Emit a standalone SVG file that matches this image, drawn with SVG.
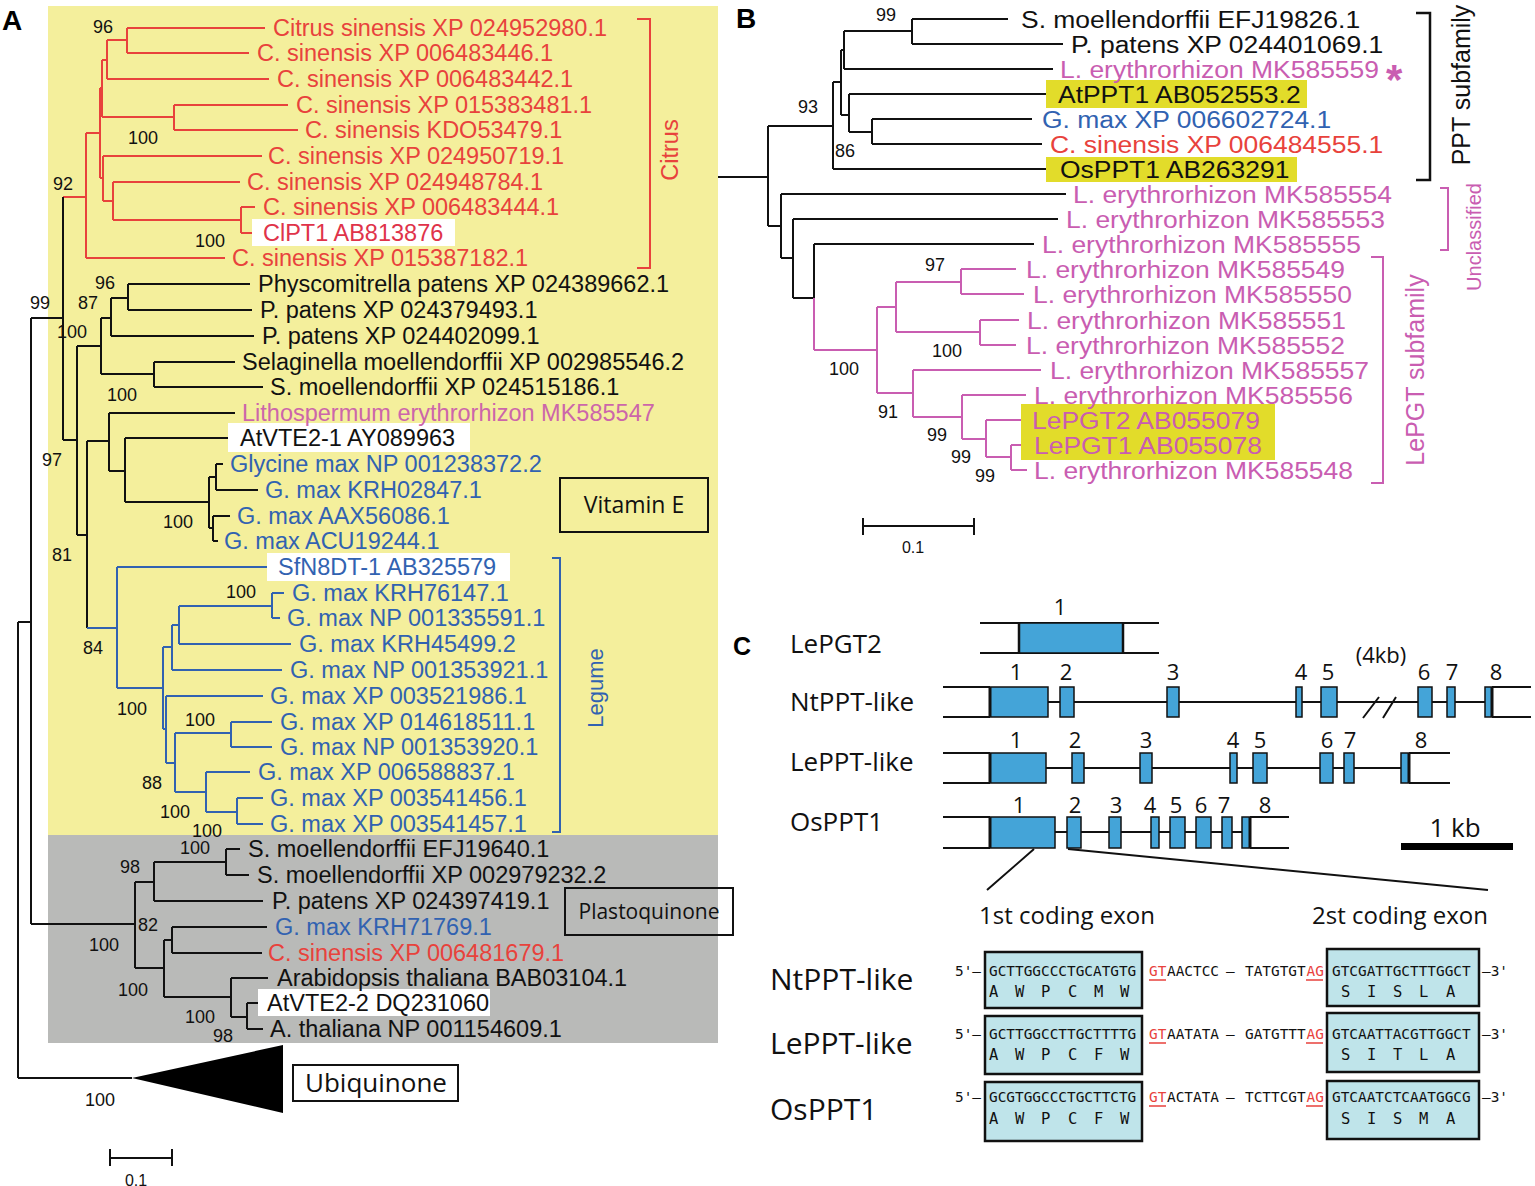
<svg xmlns="http://www.w3.org/2000/svg" width="1535" height="1186" viewBox="0 0 1535 1186">
<style>
.ta{font-family:"Liberation Sans",Arial,sans-serif;font-size:23.5px}
.tb{font-family:"Liberation Sans",Arial,sans-serif;font-size:24.5px}
.bs{font-family:"Liberation Sans",Arial,sans-serif;font-size:18px;text-anchor:middle;fill:#111}
.lab{font-family:"Liberation Sans",Arial,sans-serif;font-size:28px;font-weight:bold;fill:#000}
.os{font-family:"Open Sans","Noto Sans",sans-serif;fill:#111}
.mono{font-family:"DejaVu Sans Mono","Liberation Mono",monospace;font-size:14.4px;fill:#111}
.aa{font-family:"DejaVu Sans Mono","Liberation Mono",monospace;font-size:15.5px;fill:#111}
.red{fill:#e8423c}.blu{fill:#3162b1}.pnk{fill:#cc66aa}.pnkb{fill:#c95db1}.blk{fill:#111}
.k{stroke:#111;stroke-width:2;fill:none}
.r{stroke:#e8423c;stroke-width:2;fill:none}
.b{stroke:#3162b1;stroke-width:2;fill:none}
.p{stroke:#c95db1;stroke-width:2;fill:none}
.wb{fill:#fff}
.hl{fill:#e2dc2a}
.ex{fill:#44a4d8;stroke:#111;stroke-width:1.5}
.sq{fill:#bfe4ea;stroke:#111;stroke-width:2.5}
.ul{stroke:#e8423c;stroke-width:1.5}
</style>
<rect width="1535" height="1186" fill="#fff"/>

<!-- Panel A backgrounds -->
<rect x="48" y="6" width="670" height="829" fill="#f4ef9c"/>
<rect x="48" y="835" width="670" height="208" fill="#b9bab8"/>
<text class="lab" x="2" y="30">A</text>
<text class="lab" x="736" y="28">B</text>
<text class="lab" x="733" y="655" style="font-size:25px">C</text>

<!-- connectors (branches) -->
<g id="branches">
<path class="r" d="M127 28H265M127 53H249M127 28V53M107 40H127M107 40V79M107 79H269M102 60H107M102 60V117M102 117H174M174 105V130M174 105H288M174 130H298M100 88H102M100 88V178M100 178H103M103 156V201M103 156H262M103 201H113M113 182V220M113 182H240M113 220H241M241 207V233M241 207H255M241 233H252M86 133H100M86 133V258M86 258H225M63 197H86"/>
<path class="k" d="M63 197V440M31 318H63M31 318V924M18 622H31M18 622V1078M18 1078H132M63 440H77M77 346V535M77 346H101M101 318V374M101 318H111M111 298V336M111 298H128M128 284V310M128 284H250M128 310H252M111 336H254M101 374H154M154 362V387M154 362H235M154 387H263M77 535H87M87 441V628M87 441H109M109 413V471M109 413H235M109 471H125M125 438V502M125 438H228M125 502H209M209 477V528M209 477H216M216 464V490M216 464H223M216 490H258M209 528H213M213 516V541M213 516H230M213 541H218"/>
<path class="b" d="M87 628H117M117 567V688M117 567H267M117 688H163M163 647V729M163 647H172M172 625V670M172 625H179M179 606V644M179 606H272M272 593V618M272 593H284M272 618H280M179 644H291M172 670H282M163 729H166M166 696V763M166 696H263M166 763H175M175 733V792M175 733H231M231 722V747M231 722H272M231 747H272M175 792H206M206 772V812M206 772H250M206 812H237M237 798V824M237 798H263M237 824H263"/>
<path class="k" d="M31 924H135M135 882V968M135 882H154M154 862V901M154 862H226M226 849V875M226 849H240M226 875H249M154 901H263M135 968H164M164 940V997M164 940H172M172 927V953M172 927H267M172 953H262M164 997H231M231 978V1017M231 978H268M231 1017H247M247 1003V1029M247 1003H258M247 1029H263"/>
<polygon points="132,1078 283,1045 283,1113" fill="#000"/>
<path class="k" d="M718 177H768"/>
<!-- Panel B tree -->
<path class="k" d="M912 19H1008M912 44H1063M912 19V44M844 31H912M844 31V69M844 69H1053M841 50H844M841 50V115M841 115H849M849 94V132M849 94H1050M849 132H872M872 119V144M872 119H1032M872 144H1042M833 82H841M833 82V169M833 169H1053M768 126H833M768 126V226M768 226H781M781 194V258M781 194H1066M781 258H793M793 219V298M793 219H1058M793 298H814M814 244V298M814 244H1034"/>
<path class="p" d="M814 298V350M814 350H877M877 307V393M877 307H896M896 282V332M896 282H961M961 269V294M961 269H1016M961 294H1024M896 332H980M980 320V345M980 320H1019M980 345H1016M877 393H913M913 370V417M913 370H1041M913 417H962M962 395V439M962 395H1026M962 439H986M986 420V457M986 420H1024M986 457H1011M1011 445V470M1011 445H1031M1011 470H1027"/>
<path d="M1034 849L987 890M1068 849L1488 890" stroke="#111" stroke-width="2" fill="none"/>
</g>

<!-- Panel A labels -->
<g id="hl-boxes-a">
<rect class="wb" x="252" y="219" width="203" height="27"/>
<rect class="wb" x="228" y="423" width="242" height="29"/>
<rect class="wb" x="267" y="553" width="243" height="28"/>
<rect class="wb" x="258" y="989" width="232" height="27"/>
</g>
<g id="leaves-a">
<g id="a01"><text class="ta red" x="273" y="36">Citrus sinensis XP 024952980.1</text></g>
<g id="a02"><text class="ta red" x="257" y="61">C. sinensis XP 006483446.1</text></g>
<g id="a03"><text class="ta red" x="277" y="87">C. sinensis XP 006483442.1</text></g>
<g id="a04"><text class="ta red" x="296" y="113">C. sinensis XP 015383481.1</text></g>
<g id="a05"><text class="ta red" x="305" y="138">C. sinensis KDO53479.1</text></g>
<g id="a06"><text class="ta red" x="268" y="164">C. sinensis XP 024950719.1</text></g>
<g id="a07"><text class="ta red" x="247" y="190">C. sinensis XP 024948784.1</text></g>
<g id="a08"><text class="ta red" x="263" y="215">C. sinensis XP 006483444.1</text></g>
<g id="a09"><text class="ta" x="263" y="241" fill="#e0334a">ClPT1 AB813876</text></g>
<g id="a10"><text class="ta red" x="232" y="266">C. sinensis XP 015387182.1</text></g>
<g id="a11"><text class="ta blk" x="258" y="292">Physcomitrella patens XP 024389662.1</text></g>
<g id="a12"><text class="ta blk" x="260" y="318">P. patens XP 024379493.1</text></g>
<g id="a13"><text class="ta blk" x="262" y="344">P. patens XP 024402099.1</text></g>
<g id="a14"><text class="ta blk" x="242" y="370">Selaginella moellendorffii XP 002985546.2</text></g>
<g id="a15"><text class="ta blk" x="270" y="395">S. moellendorffii XP 024515186.1</text></g>
<g id="a16"><text class="ta pnk" x="242" y="421">Lithospermum erythrorhizon MK585547</text></g>
<g id="a17"><text class="ta blk" x="240" y="446">AtVTE2-1 AY089963</text></g>
<g id="a18"><text class="ta blu" x="230" y="472">Glycine max NP 001238372.2</text></g>
<g id="a19"><text class="ta blu" x="265" y="498">G. max KRH02847.1</text></g>
<g id="a20"><text class="ta blu" x="237" y="524">G. max AAX56086.1</text></g>
<g id="a21"><text class="ta blu" x="224" y="549">G. max ACU19244.1</text></g>
<g id="a22"><text class="ta blu" x="278" y="575">SfN8DT-1 AB325579</text></g>
<g id="a23"><text class="ta blu" x="292" y="601">G. max KRH76147.1</text></g>
<g id="a24"><text class="ta blu" x="287" y="626">G. max NP 001335591.1</text></g>
<g id="a25"><text class="ta blu" x="299" y="652">G. max KRH45499.2</text></g>
<g id="a26"><text class="ta blu" x="290" y="678">G. max NP 001353921.1</text></g>
<g id="a27"><text class="ta blu" x="270" y="704">G. max XP 003521986.1</text></g>
<g id="a28"><text class="ta blu" x="280" y="730">G. max XP 014618511.1</text></g>
<g id="a29"><text class="ta blu" x="280" y="755">G. max NP 001353920.1</text></g>
<g id="a30"><text class="ta blu" x="258" y="780">G. max XP 006588837.1</text></g>
<g id="a31"><text class="ta blu" x="270" y="806">G. max XP 003541456.1</text></g>
<g id="a32"><text class="ta blu" x="270" y="832">G. max XP 003541457.1</text></g>
<g id="a33"><text class="ta blk" x="248" y="857">S. moellendorffii EFJ19640.1</text></g>
<g id="a34"><text class="ta blk" x="257" y="883">S. moellendorffii XP 002979232.2</text></g>
<g id="a35"><text class="ta blk" x="272" y="909">P. patens XP 024397419.1</text></g>
<g id="a36"><text class="ta blu" x="275" y="935">G. max KRH71769.1</text></g>
<g id="a37"><text class="ta red" x="268" y="961">C. sinensis XP 006481679.1</text></g>
<g id="a38"><text class="ta blk" x="277" y="986">Arabidopsis thaliana BAB03104.1</text></g>
<g id="a39"><text class="ta blk" x="267" y="1011">AtVTE2-2 DQ231060</text></g>
<g id="a40"><text class="ta blk" x="270" y="1037">A. thaliana NP 001154609.1</text></g>
</g>

<g id="bootstrap-a">
<text class="bs" x="103" y="33">96</text>
<text class="bs" x="143" y="144">100</text>
<text class="bs" x="210" y="247">100</text>
<text class="bs" x="63" y="190">92</text>
<text class="bs" x="40" y="309">99</text>
<text class="bs" x="105" y="289">96</text>
<text class="bs" x="88" y="309">87</text>
<text class="bs" x="72" y="338">100</text>
<text class="bs" x="122" y="401">100</text>
<text class="bs" x="52" y="466">97</text>
<text class="bs" x="178" y="528">100</text>
<text class="bs" x="62" y="561">81</text>
<text class="bs" x="93" y="654">84</text>
<text class="bs" x="241" y="598">100</text>
<text class="bs" x="132" y="715">100</text>
<text class="bs" x="200" y="726">100</text>
<text class="bs" x="152" y="789">88</text>
<text class="bs" x="175" y="818">100</text>
<text class="bs" x="207" y="837">100</text>
<text class="bs" x="195" y="854">100</text>
<text class="bs" x="130" y="873">98</text>
<text class="bs" x="148" y="931">82</text>
<text class="bs" x="104" y="951">100</text>
<text class="bs" x="133" y="996">100</text>
<text class="bs" x="200" y="1023">100</text>
<text class="bs" x="223" y="1042">98</text>
<text class="bs" x="100" y="1106">100</text>
</g>

<g id="clade-citrus">
<path class="r" d="M637 19H650V268H637"/>
<text class="ta red" transform="translate(678,150) rotate(-90)" text-anchor="middle">Citrus</text>
</g>
<g id="clade-legume">
<path class="b" d="M552 558H560V832H552"/>
<text class="blu" transform="translate(603,688) rotate(-90)" text-anchor="middle" style="font-family:'Liberation Sans',Arial,sans-serif;font-size:22px">Legume</text>
</g>
<g id="box-vitamin-e">
<rect x="560" y="478" width="148" height="54" fill="none" stroke="#111" stroke-width="2"/>
<text class="os" x="634" y="513" text-anchor="middle" style="font-size:23px">Vitamin E</text>
</g>
<g id="box-plastoquinone">
<rect x="565" y="888" width="168" height="47" fill="none" stroke="#111" stroke-width="2"/>
<text class="os" x="649" y="919" text-anchor="middle" style="font-size:21px">Plastoquinone</text>
</g>
<g id="box-ubiquinone">
<rect x="293" y="1065" width="165" height="36" fill="#fff" stroke="#111" stroke-width="2"/>
<text class="os" x="376" y="1092" text-anchor="middle" style="font-size:26px">Ubiquinone</text>
</g>
<g id="scale-a">
<path class="k" d="M110 1158H172M110 1149V1166M172 1149V1166"/>
<text class="bs" x="136" y="1186" style="font-size:16px">0.1</text>
</g>

<!-- Panel B -->
<g id="hl-boxes-b">
<rect class="hl" x="1046" y="80" width="261" height="28"/>
<rect class="hl" x="1046" y="157" width="251" height="25"/>
<rect class="hl" x="1021" y="404" width="254" height="56"/>
</g>
<g id="leaves-b">
<g id="b01"><text class="tb blk" transform="translate(1021,28) scale(1.08,1)">S. moellendorffii EFJ19826.1</text></g>
<g id="b02"><text class="tb blk" transform="translate(1071,53) scale(1.08,1)">P. patens XP 024401069.1</text></g>
<g id="b03"><text class="tb pnkb" transform="translate(1060,78) scale(1.08,1)">L. erythrorhizon MK585559</text><text class="pnkb" x="1386" y="94" style="font-family:'Liberation Sans',Arial,sans-serif;font-size:42px;font-weight:bold">*</text></g>
<g id="b04"><text class="tb blk" transform="translate(1058,103) scale(1.08,1)">AtPPT1 AB052553.2</text></g>
<g id="b05"><text class="tb blu" transform="translate(1042,128) scale(1.08,1)">G. max XP 006602724.1</text></g>
<g id="b06"><text class="tb red" transform="translate(1050,153) scale(1.08,1)">C. sinensis XP 006484555.1</text></g>
<g id="b07"><text class="tb blk" transform="translate(1060,178) scale(1.08,1)">OsPPT1 AB263291</text></g>
<g id="b08"><text class="tb pnkb" transform="translate(1073,203) scale(1.08,1)">L. erythrorhizon MK585554</text></g>
<g id="b09"><text class="tb pnkb" transform="translate(1066,228) scale(1.08,1)">L. erythrorhizon MK585553</text></g>
<g id="b10"><text class="tb pnkb" transform="translate(1042,253) scale(1.08,1)">L. erythrorhizon MK585555</text></g>
<g id="b11"><text class="tb pnkb" transform="translate(1026,278) scale(1.08,1)">L. erythrorhizon MK585549</text></g>
<g id="b12"><text class="tb pnkb" transform="translate(1033,303) scale(1.08,1)">L. erythrorhizon MK585550</text></g>
<g id="b13"><text class="tb pnkb" transform="translate(1027,329) scale(1.08,1)">L. erythrorhizon MK585551</text></g>
<g id="b14"><text class="tb pnkb" transform="translate(1026,354) scale(1.08,1)">L. erythrorhizon MK585552</text></g>
<g id="b15"><text class="tb pnkb" transform="translate(1050,379) scale(1.08,1)">L. erythrorhizon MK585557</text></g>
<g id="b16"><text class="tb pnkb" transform="translate(1034,404) scale(1.08,1)">L. erythrorhizon MK585556</text></g>
<g id="b17"><text class="tb pnkb" transform="translate(1032,429) scale(1.08,1)">LePGT2 AB055079</text></g>
<g id="b18"><text class="tb pnkb" transform="translate(1034,454) scale(1.08,1)">LePGT1 AB055078</text></g>
<g id="b19"><text class="tb pnkb" transform="translate(1034,479) scale(1.08,1)">L. erythrorhizon MK585548</text></g>
</g>
<g id="bootstrap-b">
<text class="bs" x="886" y="21">99</text>
<text class="bs" x="808" y="113">93</text>
<text class="bs" x="845" y="157">86</text>
<text class="bs" x="935" y="271">97</text>
<text class="bs" x="947" y="357">100</text>
<text class="bs" x="844" y="375">100</text>
<text class="bs" x="888" y="418">91</text>
<text class="bs" x="937" y="441">99</text>
<text class="bs" x="961" y="463">99</text>
<text class="bs" x="985" y="482">99</text>
</g>
<g id="clade-ppt">
<path d="M1416 13H1430V180H1416" stroke="#111" stroke-width="2.5" fill="none"/>
<text class="blk" transform="translate(1470,85) rotate(-90)" text-anchor="middle" style="font-family:'Liberation Sans',Arial,sans-serif;font-size:25px">PPT subfamily</text>
</g>
<g id="clade-unclassified">
<path class="p" d="M1440 188H1448V250H1440"/>
<text class="pnkb" transform="translate(1481,237) rotate(-90)" text-anchor="middle" style="font-family:'Liberation Sans',Arial,sans-serif;font-size:20px">Unclassified</text>
</g>
<g id="clade-lepgt">
<path class="p" d="M1371 257H1383V483H1371"/>
<text class="pnkb" transform="translate(1424,370) rotate(-90)" text-anchor="middle" style="font-family:'Liberation Sans',Arial,sans-serif;font-size:25px">LePGT subfamily</text>
</g>
<g id="scale-b">
<path class="k" d="M863 526H974M863 518V535M974 518V535"/>
<text class="bs" x="913" y="553" style="font-size:16px">0.1</text>
</g>

<!-- Panel C gene models -->
<g id="gene-lepgt2">
<text class="os" x="790" y="653" style="font-size:26px">LePGT2</text>
<path class="k" d="M980 623H1159M980 653H1159"/>
<rect class="ex" x="1019" y="623" width="104" height="30"/>
<path d="M1019 623V653M1123 623V653" stroke="#111" stroke-width="2.5"/>
<text class="os" x="1060" y="615" text-anchor="middle" style="font-size:22px">1</text>
</g>
<g id="gene-ntppt">
<text class="os" x="790" y="711" style="font-size:26px">NtPPT-like</text>
<path class="k" d="M943 687H990M943 717H990M1492 687H1531M1492 717H1531M1048 702H1485"/>
<rect class="ex" x="990" y="687" width="58" height="30"/>
<rect class="ex" x="1060" y="687" width="14" height="30"/>
<rect class="ex" x="1167" y="687" width="12" height="30"/>
<rect class="ex" x="1296" y="687" width="6" height="30"/>
<rect class="ex" x="1321" y="687" width="16" height="30"/>
<rect class="ex" x="1418" y="687" width="14" height="30"/>
<rect class="ex" x="1447" y="687" width="8" height="30"/>
<rect class="ex" x="1485" y="687" width="7" height="30"/>
<path d="M990 687V717M1492 687V717" stroke="#111" stroke-width="3"/>
<path d="M1363 718L1379 697M1383 718L1396 697" stroke="#111" stroke-width="2"/>
<g class="os" style="font-size:22px" text-anchor="middle">
<text x="1016" y="680">1</text><text x="1066" y="680">2</text><text x="1173" y="680">3</text><text x="1301" y="680">4</text><text x="1328" y="680">5</text><text x="1381" y="663">(4kb)</text><text x="1424" y="680">6</text><text x="1452" y="680">7</text><text x="1496" y="680">8</text>
</g>
</g>
<g id="gene-leppt">
<text class="os" x="790" y="771" style="font-size:26px">LePPT-like</text>
<path class="k" d="M943 753H990M943 783H990M1409 753H1450M1409 783H1450M1046 768H1401"/>
<rect class="ex" x="990" y="753" width="56" height="30"/>
<rect class="ex" x="1072" y="753" width="12" height="30"/>
<rect class="ex" x="1140" y="753" width="12" height="30"/>
<rect class="ex" x="1230" y="753" width="7" height="30"/>
<rect class="ex" x="1253" y="753" width="14" height="30"/>
<rect class="ex" x="1320" y="753" width="13" height="30"/>
<rect class="ex" x="1344" y="753" width="10" height="30"/>
<rect class="ex" x="1401" y="753" width="8" height="30"/>
<path d="M990 753V783M1409 753V783" stroke="#111" stroke-width="3"/>
<g class="os" style="font-size:22px" text-anchor="middle">
<text x="1016" y="748">1</text><text x="1075" y="748">2</text><text x="1146" y="748">3</text><text x="1233" y="748">4</text><text x="1260" y="748">5</text><text x="1327" y="748">6</text><text x="1350" y="748">7</text><text x="1421" y="748">8</text>
</g>
</g>
<g id="gene-osppt1">
<text class="os" x="790" y="831" style="font-size:26px">OsPPT1</text>
<path class="k" d="M943 817H990M943 848H990M1250 817H1289M1250 848H1289M1055 832H1242"/>
<rect class="ex" x="990" y="817" width="65" height="31"/>
<rect class="ex" x="1067" y="817" width="14" height="31"/>
<rect class="ex" x="1109" y="817" width="12" height="31"/>
<rect class="ex" x="1151" y="817" width="8" height="31"/>
<rect class="ex" x="1170" y="817" width="15" height="31"/>
<rect class="ex" x="1196" y="817" width="15" height="31"/>
<rect class="ex" x="1222" y="817" width="10" height="31"/>
<rect class="ex" x="1242" y="817" width="8" height="31"/>
<path d="M990 817V848M1250 817V848" stroke="#111" stroke-width="3"/>
<g class="os" style="font-size:22px" text-anchor="middle">
<text x="1019" y="813">1</text><text x="1075" y="813">2</text><text x="1116" y="813">3</text><text x="1150" y="813">4</text><text x="1176" y="813">5</text><text x="1201" y="813">6</text><text x="1224" y="813">7</text><text x="1265" y="813">8</text>
</g>
</g>
<g id="scale-c">
<rect x="1401" y="843" width="112" height="7" fill="#000"/>
<text class="os" x="1455" y="837" text-anchor="middle" style="font-size:26px">1 kb</text>
</g>

<!-- Sequences -->
<g id="seq-headers">
<text class="os" x="1067" y="924" text-anchor="middle" style="font-size:24px">1st coding exon</text>
<text class="os" x="1400" y="924" text-anchor="middle" style="font-size:24px">2st coding exon</text>
</g>
<g id="seq-ntppt">
<text class="os" x="770" y="990" style="font-size:30px">NtPPT-like</text>
<rect class="sq" x="985" y="952" width="157" height="56"/>
<rect class="sq" x="1327" y="949" width="152" height="57"/>
<text class="mono" x="955" y="976">5'–</text>
<text class="mono" x="989" y="976">GCTTGGCCCTGCATGTG</text>
<text class="mono red" x="1149" y="976">GT</text>
<text class="mono" x="1167" y="976">AACTCC</text>
<text class="mono" x="1226" y="976">–</text>
<text class="mono" x="1245" y="976">TATGTGT</text>
<text class="mono red" x="1306.5" y="976">AG</text>
<text class="mono" x="1332" y="976">GTCGATTGCTTTGGCT</text>
<text class="mono" x="1482" y="976">–3'</text>
<path class="ul" d="M1149 980H1166M1306 980H1323"/>
<text class="aa" x="989 1015 1041 1068 1094 1120" y="997">AWPCMW</text>
<text class="aa" x="1341 1367 1393 1419 1446" y="997">SISLA</text>
</g>
<g id="seq-leppt">
<text class="os" x="770" y="1054" style="font-size:30px">LePPT-like</text>
<rect class="sq" x="985" y="1016" width="157" height="58"/>
<rect class="sq" x="1327" y="1013" width="152" height="59"/>
<text class="mono" x="955" y="1039">5'–</text>
<text class="mono" x="989" y="1039">GCTTGGCCTTGCTTTTG</text>
<text class="mono red" x="1149" y="1039">GT</text>
<text class="mono" x="1167" y="1039">AATATA</text>
<text class="mono" x="1226" y="1039">–</text>
<text class="mono" x="1245" y="1039">GATGTTT</text>
<text class="mono red" x="1306.5" y="1039">AG</text>
<text class="mono" x="1332" y="1039">GTCAATTACGTTGGCT</text>
<text class="mono" x="1482" y="1039">–3'</text>
<path class="ul" d="M1149 1043H1166M1306 1043H1323"/>
<text class="aa" x="989 1015 1041 1068 1094 1120" y="1060">AWPCFW</text>
<text class="aa" x="1341 1367 1393 1419 1446" y="1060">SITLA</text>
</g>
<g id="seq-osppt1">
<text class="os" x="770" y="1120" style="font-size:30px">OsPPT1</text>
<rect class="sq" x="985" y="1082" width="157" height="59"/>
<rect class="sq" x="1327" y="1081" width="152" height="58"/>
<text class="mono" x="955" y="1102">5'–</text>
<text class="mono" x="989" y="1102">GCGTGGCCCTGCTTCTG</text>
<text class="mono red" x="1149" y="1102">GT</text>
<text class="mono" x="1167" y="1102">ACTATA</text>
<text class="mono" x="1226" y="1102">–</text>
<text class="mono" x="1245" y="1102">TCTTCGT</text>
<text class="mono red" x="1306.5" y="1102">AG</text>
<text class="mono" x="1332" y="1102">GTCAATCTCAATGGCG</text>
<text class="mono" x="1482" y="1102">–3'</text>
<path class="ul" d="M1149 1106H1166M1306 1106H1323"/>
<text class="aa" x="989 1015 1041 1068 1094 1120" y="1124">AWPCFW</text>
<text class="aa" x="1341 1367 1393 1419 1446" y="1124">SISMA</text>
</g>
</svg>
